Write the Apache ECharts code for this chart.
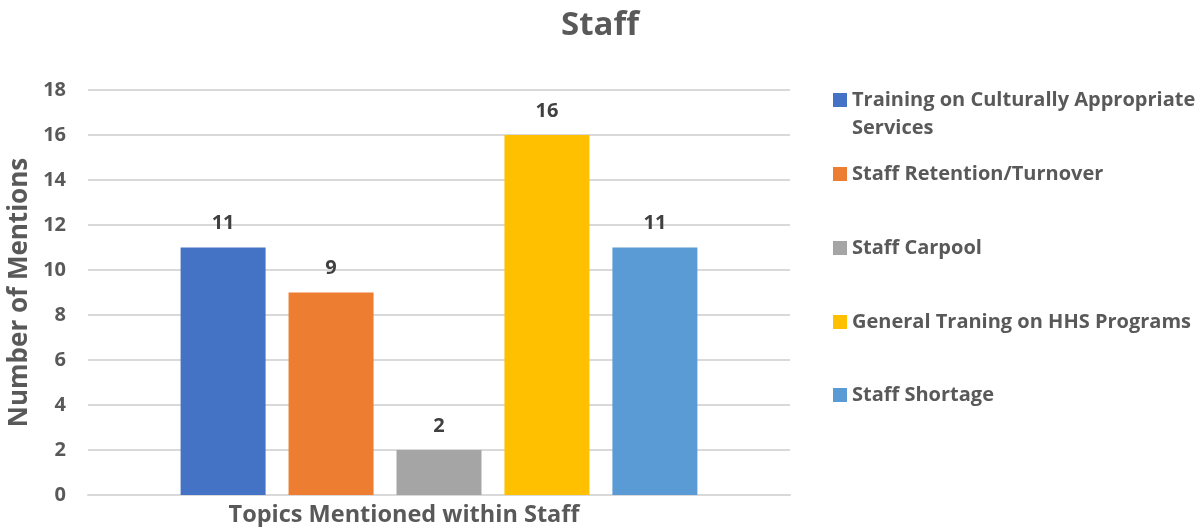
<!DOCTYPE html>
<html>
<head>
<meta charset="utf-8">
<script src="https://cdn.jsdelivr.net/npm/echarts@6/dist/echarts.min.js"></script>
<style>
  html, body { margin: 0; padding: 0; background: #fff; }
  #chart { width: 1200px; height: 527px; }
</style>
</head>
<body>
<div id="chart"></div>
<script>
// data
const topics = [
  "Training on Culturally Appropriate Services",
  "Staff Retention/Turnover",
  "Staff Carpool",
  "General Traning on HHS Programs",
  "Staff Shortage"
];
const mentions = [11, 9, 2, 16, 11];
const colors = ["#4472c4", "#ed7d31", "#a5a5a5", "#ffc000", "#5b9bd5"];
const category = [""];

const FONT = "Open Sans";
const TEXT = "#595959";

const chart = echarts.init(document.getElementById("chart"));

// legend rows (top of each item box)
const legendTops = [58, 160, 234, 308, 381];

const option = {
  animation: false,
  title: {
    text: "Staff",
    left: "center",
    top: 4,
    textStyle: { fontFamily: FONT, fontSize: 33, fontWeight: "bold", color: TEXT }
  },
  legend: topics.map((t, i) => ({
    data: [t],
    left: 833,
    top: legendTops[i],
    padding: 0,
    itemWidth: 14,
    itemHeight: 14,
    itemGap: 0,
    icon: "rect",
    selectedMode: false,
    formatter: (name) =>
      name === topics[0] ? "\nTraining on Culturally Appropriate\nServices" : name,
    textStyle: {
      fontFamily: FONT,
      fontSize: 20,
      fontWeight: "bold",
      color: TEXT,
      lineHeight: 28
    }
  })),
  grid: { left: 88, right: 410, top: 90, bottom: 32, outerBoundsMode: "none" },
  xAxis: {
    type: "category",
    data: category,
    name: "Topics Mentioned within Staff",
    nameLocation: "middle",
    nameGap: 7,
    nameTextStyle: {
      fontFamily: FONT, fontSize: 23.5, fontWeight: "bold", color: TEXT,
      verticalAlign: "top", lineHeight: 26, padding: [0, 70, 0, 0]
    },
    axisLine: { lineStyle: { color: "#d9d9d9", width: 2 } },
    axisTick: { show: false },
    axisLabel: { show: false }
  },
  yAxis: {
    type: "value",
    min: 0,
    max: 18,
    interval: 2,
    name: "Number of Mentions",
    nameLocation: "middle",
    nameGap: 49,
    nameTextStyle: { fontFamily: FONT, fontSize: 26, fontWeight: "bold", color: TEXT },
    axisLine: { show: false },
    axisTick: { show: false },
    axisLabel: { fontFamily: FONT, fontSize: 20, fontWeight: "bold", color: TEXT, margin: 22 },
    splitLine: { lineStyle: { color: "#d9d9d9", width: 2 } }
  },
  series: topics.map((t, i) => ({
    name: t,
    type: "bar",
    data: [mentions[i]],
    barWidth: 85,
    barGap: "27%",
    itemStyle: { color: colors[i] },
    label: {
      show: true,
      position: "top",
      distance: 14,
      fontFamily: FONT,
      fontSize: 20,
      fontWeight: "bold",
      color: "#404040"
    }
  }))
};

chart.setOption(option);
</script>
</body>
</html>
